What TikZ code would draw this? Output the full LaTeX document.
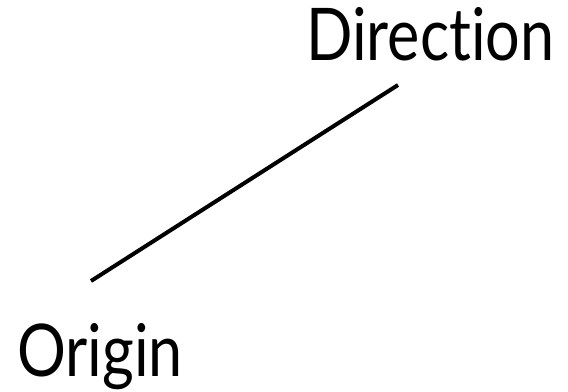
\documentclass[tikz,border=0pt]{standalone}
\usepackage{fontspec}
\setmainfont[Ligatures=NoCommon,FakeStretch=0.84]{Lato}
\begin{document}
\begin{tikzpicture}[x=1bp,y=-1bp,
  lbl/.style={inner sep=0pt,anchor=base west,font=\fontsize{73}{78}\selectfont},
  ray/.style={line width=4bp}]
\useasboundingbox (0,0) rectangle (568,391);
\node[lbl] (dir) at (306,60) {Direction};
\node[lbl] (org) at (17,376) {Origin};
\coordinate (a) at (91,281);
\coordinate (b) at (398,85);
\draw[ray] (a) -- (b);
\end{tikzpicture}
\end{document}
